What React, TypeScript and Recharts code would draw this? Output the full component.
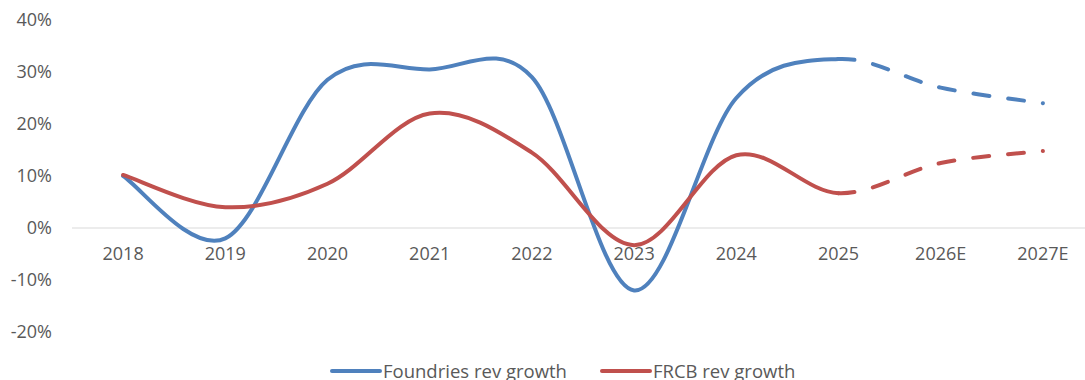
import { Legend, Line, LineChart, ReferenceDot, ReferenceLine, XAxis, YAxis } from "recharts";

const years = ["2018", "2019", "2020", "2021", "2022", "2023", "2024", "2025", "2026E", "2027E"];
const foundriesGrowth = [10, -2, 28.5, 30.5, 29, -12, 25, 32.5, 27, 24];
const frcbGrowth = [10.2, 4, 8.5, 22, 14.5, -3.3, 14, 6.7, 12.5, 14.8];
const yTicks = [-20, -10, 0, 10, 20, 30, 40];
const seriesNames = ["Foundries rev growth", "FRCB rev growth"];

// index of the last reported year; segments after it are estimates (dashed)
const lastActual = years.indexOf("2025");

const BLUE = "#4f81bd";
const RED = "#c0504d";
const TEXT = "#595959";

const data = years.map((year, i) => ({
  year,
  foundries: foundriesGrowth[i],
  frcb: frcbGrowth[i],
}));

// Excel-style smoothing (Catmull-Rom through all points), stroking only segments from..to
function smoothSegments(from: number, to: number) {
  return (context: any) => {
    let pts: number[][] = [];
    return {
      areaStart() {},
      areaEnd() {},
      lineStart() {
        pts = [];
      },
      point(x: number, y: number) {
        pts.push([+x, +y]);
      },
      lineEnd() {
        const last = pts.length - 1;
        const end = Math.min(to, last);
        if (from >= end) return;
        context.moveTo(pts[from][0], pts[from][1]);
        for (let i = from; i < end; i++) {
          const p0 = pts[Math.max(i - 1, 0)];
          const p1 = pts[i];
          const p2 = pts[i + 1];
          const p3 = pts[Math.min(i + 2, last)];
          context.bezierCurveTo(
            p1[0] + (p2[0] - p0[0]) / 6,
            p1[1] + (p2[1] - p0[1]) / 6,
            p2[0] - (p3[0] - p1[0]) / 6,
            p2[1] - (p3[1] - p1[1]) / 6,
            p2[0],
            p2[1]
          );
        }
      },
    };
  };
}

const actualCurve = smoothSegments(0, lastActual);
const estimateCurve = smoothSegments(lastActual, years.length - 1);

function LegendContent({ payload }: any) {
  const items = (payload || [])
    .filter((p: any) => seriesNames.includes(p.value))
    .sort((a: any, b: any) => seriesNames.indexOf(a.value) - seriesNames.indexOf(b.value));
  return (
    <div style={{ display: "flex", paddingLeft: 330, paddingTop: 27, gap: 33 }}>
      {items.map((item: any) => (
        <div key={item.value} style={{ display: "flex", alignItems: "center", lineHeight: "24px" }}>
          <svg width={52} height={6} style={{ marginRight: 1 }}>
            <line x1={2} y1={3} x2={50} y2={3} stroke={item.color} strokeWidth={4} strokeLinecap="round" />
          </svg>
          <span style={{ color: TEXT, fontSize: 18.5 }}>{item.value}</span>
        </div>
      ))}
    </div>
  );
}

export default function App() {
  return (
    <div
      style={{
        position: "fixed",
        top: 0,
        left: 0,
        width: 1085,
        height: 380,
        overflow: "hidden",
        background: "#fff",
        fontFamily: "'Open Sans', sans-serif",
      }}
    >
      <LineChart width={1094} height={400} data={data} margin={{ top: 20, right: 0, bottom: 0, left: 0 }}>
        <XAxis dataKey="year" scale="band" hide />
        <YAxis
          domain={[-20, 40]}
          ticks={yTicks}
          tickFormatter={(v: number) => `${v}%`}
          axisLine={false}
          tickLine={false}
          tickSize={0}
          tickMargin={20}
          width={72}
          tick={{ fill: TEXT, fontSize: 18 }}
        />
        <ReferenceLine y={0} stroke="#d9d9d9" strokeWidth={1} />
        {years.map((year) => (
          <ReferenceDot
            key={year}
            x={year}
            y={0}
            r={0}
            fill="none"
            stroke="none"
            label={{ value: year, position: "bottom", offset: 19, fill: TEXT, fontSize: 18 }}
          />
        ))}
        <Legend
          verticalAlign="bottom"
          align="left"
          height={68}
          width={1094}
          content={<LegendContent />}
        />
        <Line
          name="Foundries rev growth"
          dataKey="foundries"
          type={actualCurve as any}
          stroke={BLUE}
          strokeWidth={4}
          strokeLinecap="round"
          dot={false}
          activeDot={false}
          isAnimationActive={false}
        />
        <Line
          name="FRCB rev growth"
          dataKey="frcb"
          type={actualCurve as any}
          stroke={RED}
          strokeWidth={4}
          strokeLinecap="round"
          dot={false}
          activeDot={false}
          isAnimationActive={false}
        />
        <Line
          name="Foundries rev growth (E)"
          dataKey="foundries"
          type={estimateCurve as any}
          stroke={BLUE}
          strokeWidth={4}
          strokeDasharray="16 19"
          strokeLinecap="round"
          legendType="none"
          dot={false}
          activeDot={false}
          isAnimationActive={false}
        />
        <Line
          name="FRCB rev growth (E)"
          dataKey="frcb"
          type={estimateCurve as any}
          stroke={RED}
          strokeWidth={4}
          strokeDasharray="16 19"
          strokeLinecap="round"
          legendType="none"
          dot={false}
          activeDot={false}
          isAnimationActive={false}
        />
      </LineChart>
    </div>
  );
}
